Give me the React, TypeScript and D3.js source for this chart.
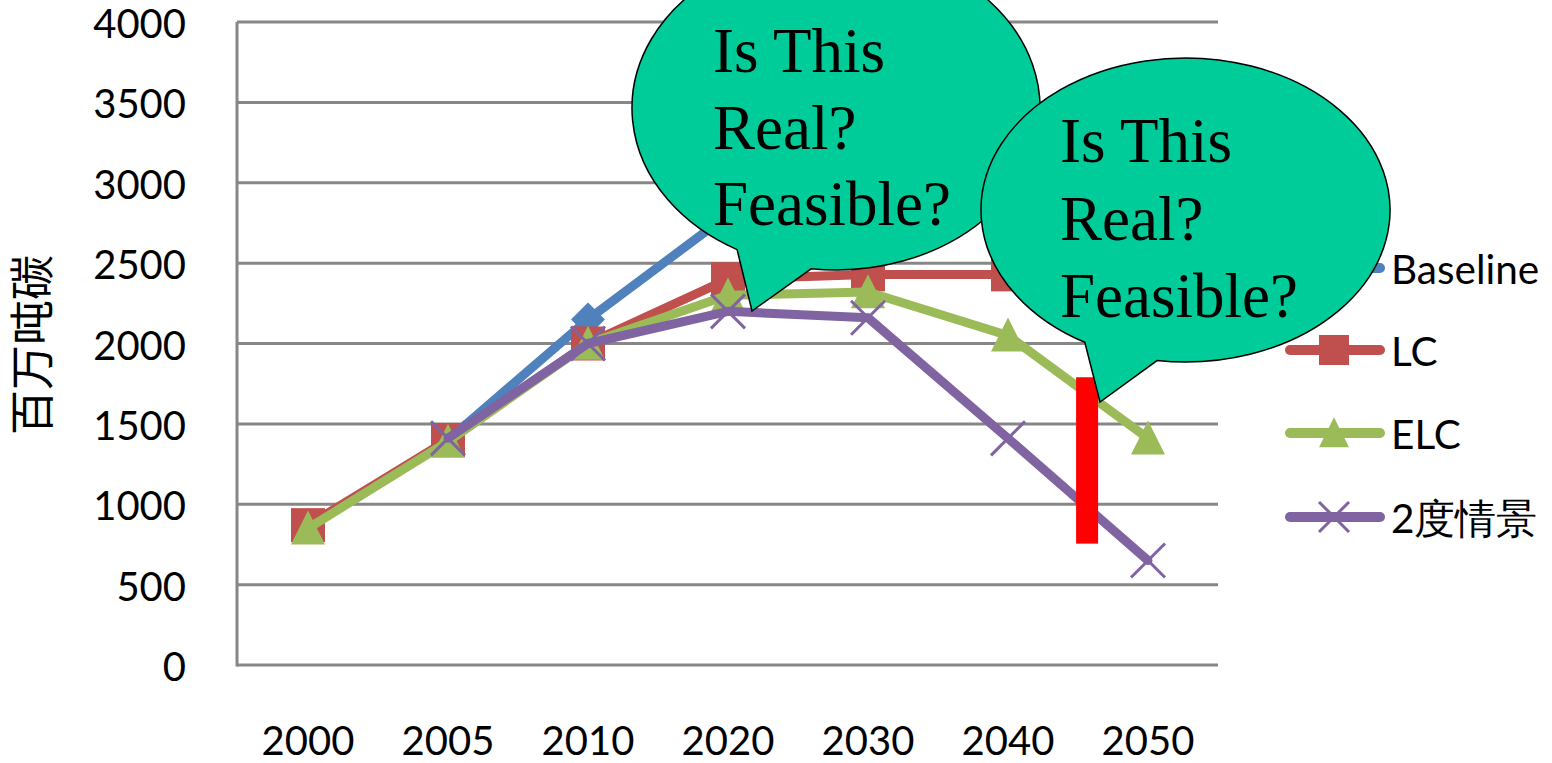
import React from 'react';
import * as d3 from 'd3';

const categories = ['2000', '2005', '2010', '2020', '2030', '2040', '2050'];
const baseline = [860, 1400, 2150, 2800, 3200, 3400, 3500];
const lc = [870, 1400, 2000, 2400, 2430, 2430, 2300];
const elc = [850, 1390, 2000, 2300, 2320, 2050, 1410];
const twoDegree: (number | null)[] = [null, 1410, 2000, 2200, 2160, 1410, 650];
const yTicks = [0, 500, 1000, 1500, 2000, 2500, 3000, 3500, 4000];
const seriesNames = ['Baseline', 'LC', 'ELC', '2度情景'];
const seriesColors = ['#4F81BD', '#C0504D', '#9BBB59', '#8064A2'];
const seriesMarkers = ['diamond', 'square', 'triangle', 'x'];
const yTitle = '百万吨碳';
const gapRange = [755, 1790];
const bubbleLines = ['Is This', 'Real?', 'Feasible?'];

const W = 1552;
const H = 763;

function marker(type: string, cx: number, cy: number, size: number, color: string, key: string) {
  const h = size / 2;
  if (type === 'square') return <rect key={key} x={cx - h} y={cy - h} width={size} height={size} fill={color} />;
  if (type === 'diamond') return <path key={key} d={`M${cx},${cy - h}L${cx + h},${cy}L${cx},${cy + h}L${cx - h},${cy}Z`} fill={color} />;
  if (type === 'triangle') return <path key={key} d={`M${cx},${cy - h * 1.05}L${cx + h},${cy + h * 0.95}L${cx - h},${cy + h * 0.95}Z`} fill={color} />;
  return (
    <g key={key} stroke={color} strokeWidth={3}>
      <line x1={cx - h} y1={cy - h} x2={cx + h} y2={cy + h} />
      <line x1={cx - h} y1={cy + h} x2={cx + h} y2={cy - h} />
    </g>
  );
}

function bubblePath(cx: number, cy: number, rx: number, ry: number, t1: number, t2: number, tip: [number, number]) {
  const p = (t: number) => [cx + rx * Math.cos((t * Math.PI) / 180), cy + ry * Math.sin((t * Math.PI) / 180)];
  const a = p(t1);
  const b = p(t2);
  return `M${a[0]},${a[1]}L${tip[0]},${tip[1]}L${b[0]},${b[1]}A${rx},${ry} 0 1 0 ${a[0]},${a[1]}Z`;
}

export default function App() {
  const x = d3.scaleBand().domain(categories).range([238, 1218]);
  const xc = (c: string) => (x(c) as number) + x.bandwidth() / 2;
  const y = d3.scaleLinear().domain([0, 4000]).range([665, 22]);
  const data: (number | null)[][] = [baseline, lc, elc, twoDegree];
  const line = d3
    .line<number | null>()
    .defined((d) => d != null)
    .x((_, i) => xc(categories[i]))
    .y((d) => y(d as number));

  const gapX = xc('2040') + 0.565 * x.step();
  const legendY = [268, 350, 433, 517];
  const sansFont = 'Lato, "Open Sans", sans-serif';
  const serifFont = '"Liberation Serif", "Times New Roman", serif';

  return (
    <svg width={W} height={H} style={{ position: 'absolute', left: 0, top: 0, background: '#fff' }}>
      {yTicks.map((t) => (
        <line key={t} x1={237} x2={1218} y1={y(t)} y2={y(t)} stroke="#878787" strokeWidth={3} />
      ))}
      <line x1={237} x2={237} y1={y(4000)} y2={y(0) + 1.5} stroke="#878787" strokeWidth={3} />
      {yTicks.map((t) => (
        <text key={t} x={186} y={y(t) + 1} textAnchor="end" dominantBaseline="central" fontFamily={sansFont} fontSize={40} fill="#000">
          {t}
        </text>
      ))}
      {categories.map((c) => (
        <text key={c} x={xc(c)} y={740} textAnchor="middle" dominantBaseline="central" fontFamily={sansFont} fontSize={40} fill="#000">
          {c}
        </text>
      ))}
      <text
        transform="translate(29,345) rotate(-90)"
        textAnchor="middle"
        dominantBaseline="central"
        fontFamily='"Noto Sans CJK SC", sans-serif'
        fontSize={45}
        fill="#000"
      >
        {yTitle}
      </text>
      {data.map((vals, si) => (
        <g key={si}>
          <path d={line(vals) || ''} fill="none" stroke={seriesColors[si]} strokeWidth={9} strokeLinejoin="round" strokeLinecap="round" />
          {vals.map((v, i) => (v == null ? null : marker(seriesMarkers[si], xc(categories[i]), y(v), 34, seriesColors[si], `${si}-${i}`)))}
        </g>
      ))}
      <rect x={gapX - 11} y={y(gapRange[1])} width={22} height={y(gapRange[0]) - y(gapRange[1])} fill="#FF0000" />
      {seriesNames.map((n, i) => (
        <g key={n}>
          <line x1={1290} x2={1380} y1={legendY[i]} y2={legendY[i]} stroke={seriesColors[i]} strokeWidth={10} strokeLinecap="round" />
          {marker(seriesMarkers[i], 1334, legendY[i], 30, seriesColors[i], 'lm' + i)}
          <text x={1391} y={legendY[i]} dominantBaseline="central" fontFamily={sansFont} fontSize={40.5} fill="#000">
            {n}
          </text>
        </g>
      ))}
      <path d={bubblePath(836, 108, 204, 162, 119, 97, [752, 311])} fill="#00CC99" stroke="#000" strokeWidth={1.5} />
      {bubbleLines.map((t, i) => (
        <text key={'b1' + i} x={713} y={72 + i * 76.5} fontFamily={serifFont} fontSize={63} fill="#000">
          {t}
        </text>
      ))}
      <path d={bubblePath(1185.5, 210, 204.5, 152, 119.5, 98, [1100, 402])} fill="#00CC99" stroke="#000" strokeWidth={1.5} />
      {bubbleLines.map((t, i) => (
        <text key={'b2' + i} x={1060} y={162 + i * 77.5} fontFamily={serifFont} fontSize={63} fill="#000">
          {t}
        </text>
      ))}
    </svg>
  );
}
